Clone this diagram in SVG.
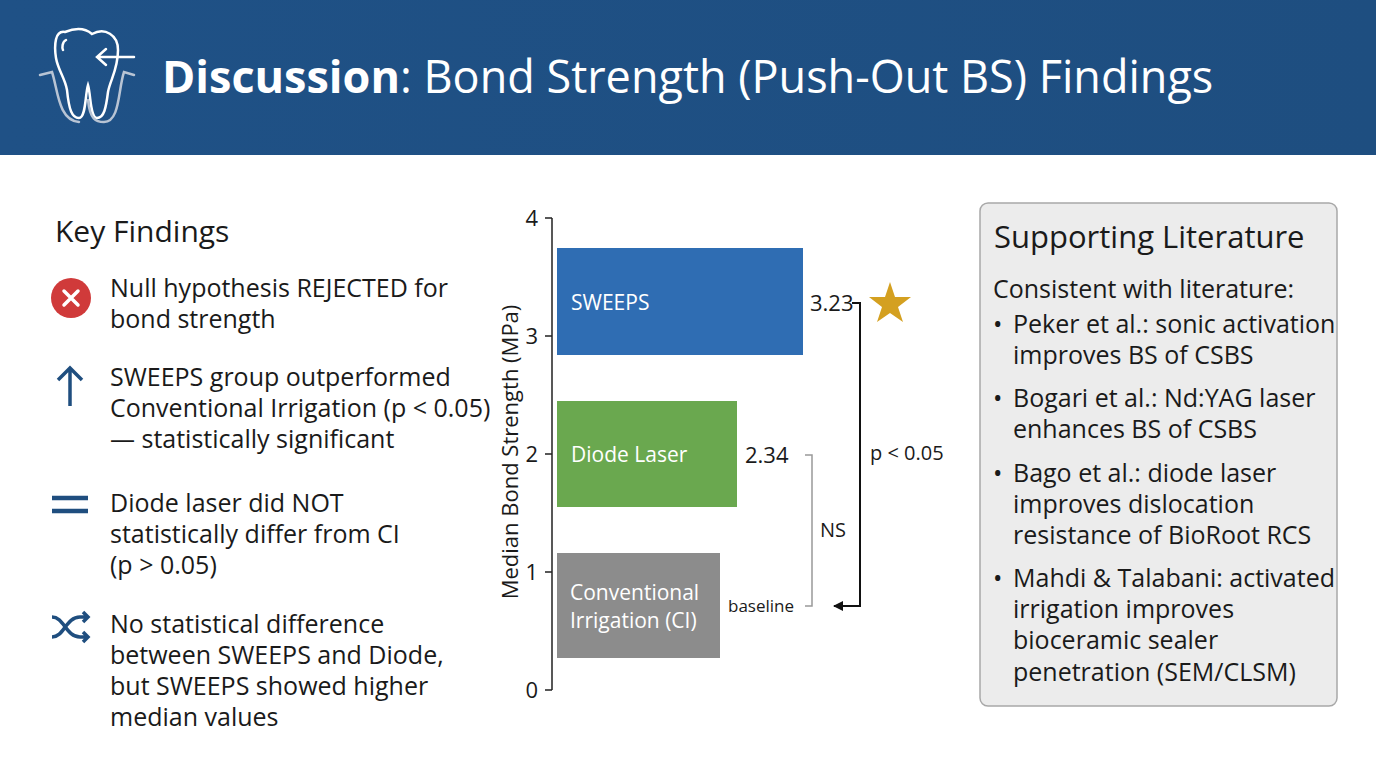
<svg xmlns="http://www.w3.org/2000/svg" width="1376" height="768" viewBox="0 0 1376 768">
<defs>
<style>
text{font-family:"Open Sans","Noto Sans","Liberation Sans",sans-serif;fill:#1a1a1a}
.b{font-size:25px}
.s{font-size:22px}
.w{fill:#fff;font-size:21px}
.ic{fill:none;stroke:#1f4e7f;stroke-width:3.5}
</style>
<marker id="ah" markerWidth="10" markerHeight="10" refX="9" refY="5" orient="auto" markerUnits="userSpaceOnUse"><path d="M0,0 L10,5 L0,10 z" fill="#111"/></marker>
<linearGradient id="hg" x1="0" y1="0" x2="1" y2="0"><stop offset="0" stop-color="#1f5186"/><stop offset="1" stop-color="#1e4e80"/></linearGradient>
</defs>
<rect width="1376" height="768" fill="#fff"/>
<g id="header">
<rect width="1376" height="155" fill="url(#hg)"/>
<g fill="none" stroke="#fff" stroke-width="2.5" stroke-linecap="round">
<path d="M65,32 C55,30 54,45 56,58 C58,70 65,78 67,90 C69,110 72,118 79,118 C86,118 85,95 88,85 C91,95 90,118 97,118 C104,118 106,108 108,92 C110,80 118,70 118,50 C118,35 105,27 92,34 C85,28 75,28 65,32 Z"/>
<path d="M66,40 C62,42 62,48 63,50"/>
<path d="M134,57 L98,57 M106,49 L97,57 L106,65"/>
<path d="M40,75 L52,72 C58,90 58,120 79,122 M88,100 C90,120 96,122 104,122 C120,122 118,90 124,72 L134,75" stroke="#b8c4d4"/>
</g>
<text x="162" y="93" style="font-size:45px;fill:#fff"><tspan font-weight="bold" fill="#fff">Discussion</tspan>: Bond Strength (Push-Out BS) Findings</text>
</g>
<g id="key-findings">
<text x="55" y="242" style="font-size:30px">Key Findings</text>
<circle cx="71" cy="298" r="20" fill="#d03a3a"/>
<path d="M64,291 L78,305 M78,291 L64,305" stroke="#fff" stroke-width="3.5" stroke-linecap="round"/>
<text class="b" x="110" y="297">Null hypothesis REJECTED for</text>
<text class="b" x="110" y="328">bond strength</text>
<path class="ic" d="M70,406 L70,368 M58,380 L70,368 L82,380"/>
<text class="b" x="110" y="386">SWEEPS group outperformed</text>
<text class="b" x="110" y="417">Conventional Irrigation (p &lt; 0.05)</text>
<text class="b" x="110" y="448">— statistically significant</text>
<path d="M52,498 L88,498 M52,511 L88,511" stroke="#1f4e7f" stroke-width="4.5"/>
<text class="b" x="110" y="512">Diode laser did NOT</text>
<text class="b" x="110" y="543">statistically differ from CI</text>
<text class="b" x="110" y="574">(p &gt; 0.05)</text>
<path class="ic" d="M52,617 C64,617 66,637 80,637 L88,637 M52,637 C64,637 66,617 80,617 L88,617 M83,612 L88,617 L83,622 M83,632 L88,637 L83,642" stroke-width="3"/>
<text class="b" x="110" y="633">No statistical difference</text>
<text class="b" x="110" y="664">between SWEEPS and Diode,</text>
<text class="b" x="110" y="695">but SWEEPS showed higher</text>
<text class="b" x="110" y="726">median values</text>
</g>
<g id="chart">
<path d="M552,218 L552,690 M545,218 L552,218 M545,336 L552,336 M545,454 L552,454 M545,572 L552,572 M545,690 L552,690" stroke="#222" stroke-width="1.5" fill="none"/>
<text class="s" x="538" y="226" text-anchor="end">4</text>
<text class="s" x="538" y="344" text-anchor="end">3</text>
<text class="s" x="538" y="462" text-anchor="end">2</text>
<text class="s" x="538" y="580" text-anchor="end">1</text>
<text class="s" x="538" y="698" text-anchor="end">0</text>
<text class="s" transform="translate(518,452) rotate(-90)" text-anchor="middle">Median Bond Strength (MPa)</text>
</g>
<g id="bar-sweeps"><rect x="557" y="248" width="246" height="107" fill="#2f6db3"/><text class="w" x="571" y="310">SWEEPS</text><text class="s" x="810" y="311">3.23</text></g>
<g id="bar-diode"><rect x="557" y="401" width="180" height="106" fill="#6aa84f"/><text class="w" x="571" y="462">Diode Laser</text><text class="s" x="745" y="463">2.34</text></g>
<g id="bar-ci"><rect x="557" y="553" width="163" height="105" fill="#8c8c8c"/><text class="w" x="570" y="600">Conventional</text><text class="w" x="570" y="628">Irrigation (CI)</text><text x="728" y="612" style="font-size:17px">baseline</text></g>
<g id="connectors">
<path d="M852,303 L860,303 L860,606 L834,606" fill="none" stroke="#111" stroke-width="2" marker-end="url(#ah)"/>
<path d="M805,455 L812,455 L812,606 L805,606" fill="none" stroke="#999" stroke-width="1.5"/>
<text class="s" x="820" y="537" style="font-size:20px">NS</text>
<text class="s" x="870" y="460" style="font-size:20px">p &lt; 0.05</text>
<path d="M890,282 L895,297 L911,297 L898,307 L903,322 L890,313 L877,322 L882,307 L869,297 L885,297 Z" fill="#d4a020"/>
</g>
<g id="literature">
<rect x="980" y="203" width="357" height="503" rx="8" fill="#ececec" stroke="#a8a8a8" stroke-width="1.5"/>
<text x="994" y="248" style="font-size:31px">Supporting Literature</text>
<text class="b" x="993" y="298">Consistent with literature:</text>
<g class="b">
<text class="b" x="993" y="333">•</text><text class="b" x="1013" y="333">Peker et al.: sonic activation</text>
<text class="b" x="1013" y="364">improves BS of CSBS</text>
<text class="b" x="993" y="407">•</text><text class="b" x="1013" y="407">Bogari et al.: Nd:YAG laser</text>
<text class="b" x="1013" y="438">enhances BS of CSBS</text>
<text class="b" x="993" y="482">•</text><text class="b" x="1013" y="482">Bago et al.: diode laser</text>
<text class="b" x="1013" y="513">improves dislocation</text>
<text class="b" x="1013" y="544">resistance of BioRoot RCS</text>
<text class="b" x="993" y="587">•</text><text class="b" x="1013" y="587">Mahdi &amp; Talabani: activated</text>
<text class="b" x="1013" y="618">irrigation improves</text>
<text class="b" x="1013" y="649">bioceramic sealer</text>
<text class="b" x="1013" y="681">penetration (SEM/CLSM)</text>
</g>
</g>
</svg>
